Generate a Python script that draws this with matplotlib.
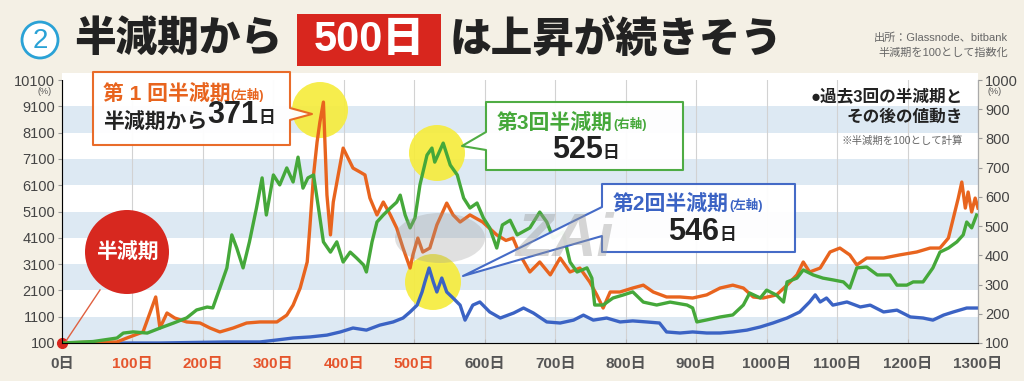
import numpy as np
import matplotlib
matplotlib.use("Agg")
import matplotlib.pyplot as plt
from matplotlib.patches import Circle, Rectangle, Polygon, Ellipse

plt.rcParams['font.family'] = ['Liberation Sans', 'Noto Sans CJK JP', 'DejaVu Sans']

# --- data (days after halving, index with halving = 100) ---
# 1st halving, left axis
days_1 = [0, 40, 78, 92, 115, 133, 139, 149, 160, 177, 196, 210, 224, 243, 262, 281, 305, 319, 328,
          338, 348, 352, 357, 362, 366, 371, 376, 381, 385, 392, 399, 406, 413, 423, 430, 437, 447,
          456, 466, 475, 484, 494, 498, 505, 512, 522, 532, 546, 555, 565, 579, 597, 617, 630, 640,
          650, 664, 678, 693, 707, 721, 735, 749, 759, 768, 778, 792, 810, 825, 839, 858, 877, 895,
          915, 934, 952, 967, 981, 995, 1014, 1029, 1043, 1052, 1061, 1076, 1090, 1104, 1118, 1128,
          1142, 1166, 1189, 1213, 1232, 1246, 1258, 1265, 1272, 1277, 1282, 1286, 1291, 1296, 1300]
vals_1 = [100, 130, 140, 290, 520, 1850, 670, 1240, 1050, 900, 860, 670, 520, 670, 860, 900, 900, 1160, 1540,
          2190, 3180, 4590, 6490, 7740, 8500, 9260, 5730, 4210, 5460, 6490, 7510, 7130, 6750, 6600, 6490, 5610, 4970,
          5460, 4970, 4470, 3710, 2950, 3450, 4090, 3560, 3710, 4590, 5420, 4970, 4700, 4970, 4700, 4210, 4000, 4090,
          3450, 2800, 3180, 2690, 3330, 2800, 2950, 2420, 1930, 1430, 2040, 2040, 2190, 2300, 2040, 1850, 1850, 1810,
          1930, 2190, 2300, 2190, 1850, 1810, 1930, 2300, 2690, 3180, 2800, 2950, 3560, 3710, 3450, 3070,
          3330, 3330, 3450, 3560, 3710, 3710, 4090, 4850, 5610, 6220, 5230, 5840, 5080, 5610, 5230]

# 2nd halving, left axis
days_2 = [0, 139, 234, 281, 305, 328, 352, 376, 395, 413, 432, 451, 470, 484, 494, 504, 511, 515, 521,
          527, 532, 539, 546, 555, 565, 572, 583, 593, 607, 622, 641, 655, 669, 688, 707, 726, 740, 754,
          773, 792, 810, 830, 848, 858, 877, 895, 915, 934, 952, 972, 991, 1009, 1029, 1047, 1061, 1069,
          1076, 1085, 1094, 1114, 1133, 1147, 1166, 1185, 1204, 1222, 1236, 1251, 1265, 1284, 1300]
vals_2 = [100, 100, 140, 140, 215, 290, 330, 400, 520, 670, 590, 780, 900, 1050, 1280, 1540, 2040, 2420, 2950,
          2420, 2040, 2570, 2040, 1810, 1540, 970, 1540, 1660, 1280, 1050, 1240, 1430, 1240, 900, 860, 970, 1160, 970,
          1050, 900, 940, 900, 860, 520, 480, 520, 480, 480, 520, 590, 710, 860, 1050, 1280, 1660, 1930,
          1660, 1810, 1540, 1660, 1470, 1540, 1280, 1350, 1090, 1050, 970, 1160, 1280, 1430, 1430]

# 3rd halving, right axis
days_3 = [0, 44, 78, 87, 101, 121, 139, 158, 177, 191, 206, 214, 224, 234, 241, 248, 257, 266, 276, 284,
          290, 300, 309, 319, 328, 335, 342, 349, 357, 364, 371, 381, 390, 399, 409, 418, 428, 432, 440,
          447, 456, 466, 475, 480, 487, 494, 501, 508, 518, 525, 529, 541, 551, 561, 570, 579, 589, 598,
          607, 617, 625, 636, 646, 664, 678, 688, 697, 711, 721, 731, 745, 752, 756, 768, 782, 796, 810,
          825, 844, 863, 887, 895, 901, 915, 934, 952, 967, 976, 991, 1000, 1014, 1024, 1029, 1043, 1052,
          1066, 1080, 1094, 1109, 1118, 1128, 1142, 1157, 1175, 1185, 1199, 1208, 1222, 1236, 1246, 1258,
          1270, 1279, 1284, 1291, 1298]
vals_3 = [100, 105, 117, 134, 138, 134, 151, 168, 186, 213, 223, 220, 288, 357, 470, 425, 357, 446, 562, 665,
          538, 675, 641, 699, 651, 736, 630, 665, 675, 562, 446, 411, 446, 377, 411, 391, 367, 343, 446,
          514, 538, 562, 582, 606, 538, 494, 528, 641, 743, 767, 719, 784, 709, 675, 596, 562, 579, 528,
          494, 425, 504, 520, 470, 494, 548, 514, 459, 480, 377, 343, 357, 322, 230, 230, 254, 264, 275,
          240, 230, 240, 230, 220, 172, 179, 189, 196, 230, 271, 254, 281, 264, 240, 309, 322, 350,
          333, 322, 316, 309, 288, 357, 360, 333, 333, 298, 298, 309, 309, 357, 411, 425,
          446, 470, 514, 494, 538]

left_ticks = list(range(100, 10101, 1000))
right_ticks = list(range(100, 1001, 100))
x_ticks = list(range(0, 1301, 100))
x_labels = [f"{d}日" for d in x_ticks]

ORANGE = '#E8641E'
GREEN = '#45A83A'
BLUE = '#3B63C4'
BAND = '#DDE9F3'
BG = '#F4F0E5'

fig = plt.figure(figsize=(10.24, 3.81), dpi=100)
fig.patch.set_facecolor(BG)

ax = fig.add_axes([62 / 1024, 38 / 381, 916 / 1024, 263 / 381])
ax.set_facecolor('white')
ax.set_xlim(0, 1300)
ax.set_ylim(100, 10100)
for lo in range(100, 10100, 2000):
    ax.axhspan(lo, lo + 1000, color=BAND, lw=0, zorder=0)
ax.set_xticks(x_ticks)
ax.set_xticklabels(x_labels, fontsize=11, fontweight='bold')
for lab, d in zip(ax.get_xticklabels(), x_ticks):
    lab.set_color('#E5552D' if 100 <= d <= 500 else '#555555')
ax.set_yticks(left_ticks)
ax.tick_params(axis='y', labelsize=10.5, labelcolor='#444444', length=3, color='#999999', pad=2)
ax.tick_params(axis='x', length=3, direction='in', color='#bbbbbb', pad=10)
ax.grid(axis='x', color='#D2D2D2', lw=0.8)
ax.set_axisbelow(True)
ax.spines['top'].set_visible(False)
for s in ['left', 'right', 'bottom']:
    ax.spines[s].set_color('#AAAAAA')

ax2 = ax.twinx()
ax2.set_ylim(100, 1000)
ax2.set_yticks(right_ticks)
ax2.tick_params(axis='y', labelsize=10.5, labelcolor='#444444', length=3, color='#999999', pad=2)
ax2.spines['top'].set_visible(False)
ax2.spines['right'].set_color('#AAAAAA')

# overlay in pixel coordinates for the decorations
ov = fig.add_axes([0, 0, 1, 1])
ov.set_xlim(0, 1024)
ov.set_ylim(381, 0)
ov.axis('off')
ov.patch.set_alpha(0)
ov.set_zorder(5)

# white strip above the top tick, as in the original
ov.add_patch(Rectangle((62, 73), 916, 7, fc='white', ec='none', zorder=0))

# yellow highlight circles (behind the lines)
for cx, cy in [(320, 110), (437, 153), (433, 282)]:
    ax.add_artist(Circle((cx, cy), 28, transform=ov.transData, color='#F6EC3A',
                         alpha=0.9, zorder=1, clip_on=False, lw=0))

ax.plot(days_1, vals_1, color=ORANGE, lw=2.4, zorder=3, solid_joinstyle='round')
ax.plot(days_2, vals_2, color=BLUE, lw=2.4, zorder=2, solid_joinstyle='round')
ax2.plot(days_3, vals_3, color=GREEN, lw=2.4, solid_joinstyle='round')
ax.plot([0], [100], 'o', color='#D8261E', ms=7, clip_on=False, zorder=6)

ov.text(45, 92, '(%)', fontsize=6.5, color='#555555', ha='center', va='center')
ov.text(995, 92, '(%)', fontsize=6.5, color='#555555', ha='center', va='center')

# title
ov.add_patch(Circle((40, 40), 18, fc='white', ec='#2AA2D6', lw=2))
ov.text(40, 41, '2', fontsize=20, color='#2AA2D6', ha='center', va='center')
ov.text(74, 40, '半減期から', fontsize=30, fontweight='heavy', color='#222222', ha='left', va='center')
ov.add_patch(Rectangle((297, 14), 144, 52, fc='#D8261E', ec='none'))
ov.text(369, 40, '500日', fontsize=30, fontweight='heavy', color='white', ha='center', va='center')
ov.text(450, 40, 'は上昇が続きそう', fontsize=30, fontweight='heavy', color='#222222', ha='left', va='center')
ov.text(1008, 38, '出所：Glassnode、bitbank', fontsize=8, color='#666666', ha='right', va='center')
ov.text(1008, 53, '半減期を100として指数化', fontsize=8, color='#666666', ha='right', va='center')

# legend note
ov.text(963, 97, '●過去3回の半減期と', fontsize=12, fontweight='bold', color='#222222', ha='right', va='center')
ov.text(963, 117, 'その後の値動き', fontsize=12, fontweight='bold', color='#222222', ha='right', va='center')
ov.text(963, 141, '※半減期を100として計算', fontsize=7.5, color='#666666', ha='right', va='center')

# watermark
ov.add_patch(Ellipse((440, 238), 90, 50, fc='#999999', alpha=0.3, lw=0))
ov.text(565, 240, 'ZAi', fontsize=44, fontweight='bold', fontstyle='italic', color='#999999',
        alpha=0.4, ha='center', va='center')

# red halving marker
ov.plot([100, 66], [290, 341], color='#E06040', lw=1)
ov.add_patch(Circle((127, 252), 42, fc='#D7281F', ec='none'))
ov.text(127, 252, '半減期', fontsize=15, fontweight='bold', color='white', ha='center', va='center')


def callout(pts, color):
    ov.add_patch(Polygon(pts, closed=True, fc='white', ec=color, lw=1.5, alpha=0.95, joinstyle='round'))


def pieces(x, y, parts):
    # parts: list of (text, size, color), laid out one after another
    t0 = None
    for txt, size, col in parts:
        if t0 is None:
            t0 = ov.text(x, y, txt, fontsize=size, color=col, fontweight='bold', ha='left', va='baseline')
        else:
            t0 = ov.annotate(txt, xy=(1, 0.12), xycoords=t0, fontsize=size, color=col,
                             fontweight='bold', ha='left', va='bottom')


callout([(93, 72), (290, 72), (290, 108), (312, 114), (290, 120), (290, 145), (93, 145)], ORANGE)
pieces(103, 100, [('第 1 回半減期', 15, ORANGE), ('(左軸)', 9, ORANGE)])
pieces(103, 128, [('半減期から', 15, '#222222'), ('371', 22, '#222222'), ('日', 12, '#222222')])

callout([(486, 102), (683, 102), (683, 170), (486, 170), (486, 150), (462, 146), (486, 132)], GREEN)
pieces(497, 129, [('第3回半減期', 15, GREEN), ('(右軸)', 9, GREEN)])
pieces(552, 158, [('525', 22, '#222222'), ('日', 12, '#222222')])

callout([(602, 184), (795, 184), (795, 252), (602, 252), (602, 236), (463, 276), (602, 207)], BLUE)
pieces(613, 210, [('第2回半減期', 15, BLUE), ('(左軸)', 9, BLUE)])
pieces(668, 240, [('546', 22, '#222222'), ('日', 12, '#222222')])

fig.savefig('out.png', dpi=100, facecolor=BG)
